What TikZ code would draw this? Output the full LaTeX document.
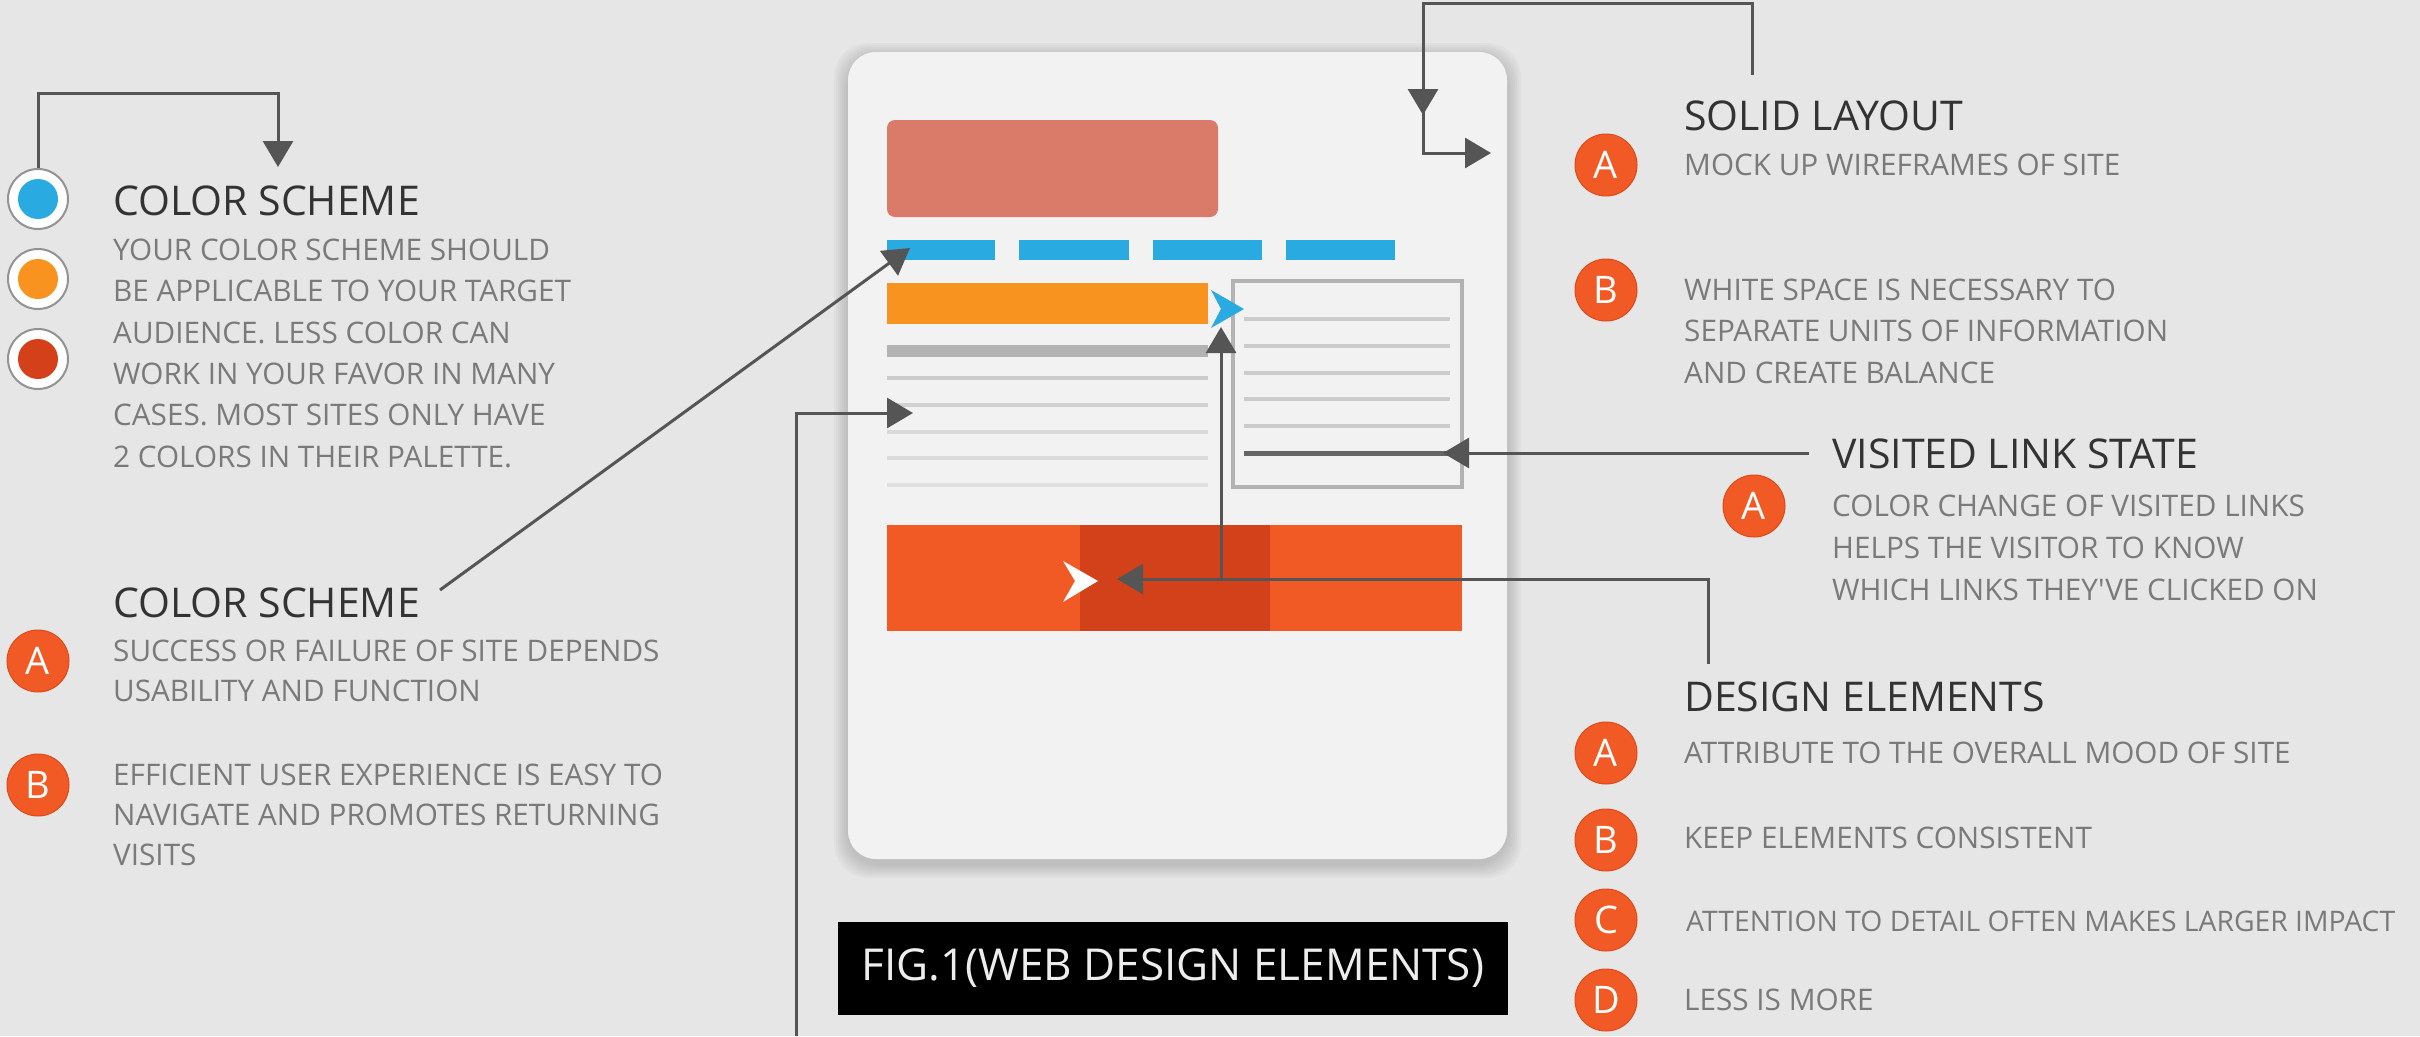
\documentclass[tikz,border=0pt]{standalone}
\usepackage{fontspec}
\setmainfont{Open Sans}
\newfontfamily\straightfont{Open Sans}[Ligatures=TeXOff]
\usetikzlibrary{arrows.meta}
\definecolor{bg}{HTML}{E6E6E6}
\definecolor{cardcol}{HTML}{F2F2F2}
\definecolor{titlecol}{HTML}{333333}
\definecolor{bodycol}{HTML}{7A7A7A}
\definecolor{conncol}{HTML}{555555}
\definecolor{badgecol}{HTML}{F15A24}
\definecolor{badgeedge}{HTML}{E04A1A}
\definecolor{blueA}{HTML}{29ABE2}
\definecolor{orangeA}{HTML}{F7931E}
\definecolor{redA}{HTML}{D4401A}
\definecolor{salmon}{HTML}{D97B68}
\definecolor{bigbar}{HTML}{F15A24}
\definecolor{bigdark}{HTML}{D2411A}
\definecolor{grayA}{HTML}{B3B3B3}
\begin{document}
\begin{tikzpicture}[x=1pt,y=-1pt,
  titletext/.style={anchor=base west,inner sep=0,text=titlecol,font=\fontsize{41}{49}\selectfont},
  bodytext/.style={anchor=base west,inner sep=0,text=bodycol,font=\fontsize{29.7}{40}\selectfont},
  badge/.style={circle,fill=badgecol,draw=badgeedge,line width=1pt,minimum size=62pt,inner sep=0,text=white,font=\fontsize{38}{38}\selectfont},
  swatch/.style={circle,fill=white,draw=gray!85,line width=2pt,minimum size=60pt,inner sep=0},
  conn/.style={draw=conncol,line width=3pt,-{Triangle[width=30pt,length=26pt]}},
  textline/.style={line width=4.5pt},
]
\useasboundingbox (0,0) rectangle (2420,1036);
\fill[bg] (0,0) rectangle (2420,1036);

% ---------- card with soft shadow ----------
\foreach \d in {14,12,10,8,6,4,2}
  \fill[black,opacity=0.022,rounded corners=34pt] (848-\d,52-\d+5) rectangle (1507+\d,859+\d+5);
\fill[cardcol,rounded corners=28pt] (848,52) rectangle (1507,859);

% header block
\fill[salmon,rounded corners=8pt] (887,120) rectangle (1218,217);
% blue nav dashes
\fill[blueA] (887,240) rectangle (995,260);
\fill[blueA] (1019,240) rectangle (1129,260);
\fill[blueA] (1153,240) rectangle (1262,260);
\fill[blueA] (1286,240) rectangle (1395,260);
% orange bar
\fill[orangeA] (887,283) rectangle (1208,324);
% gray heading bar
\fill[grayA] (887,345) rectangle (1208,357);
% left text lines
\draw[textline,draw=gray!40] (887,378) -- (1208,378);
\draw[textline,draw=gray!35] (887,405) -- (1208,405);
\draw[textline,draw=gray!30] (887,432) -- (1208,432);
\draw[textline,draw=gray!28] (887,458) -- (1208,458);
\draw[textline,draw=gray!24] (887,485) -- (1208,485);
% side box
\draw[grayA,line width=4pt,fill=cardcol] (1233,281) rectangle (1462,487);
\foreach \yy in {319,346,373,399,426}
  \draw[textline,draw=gray!40] (1244,\yy) -- (1450,\yy);
\draw[line width=5pt,draw=black!60] (1244,453) -- (1450,453);
% blue chevron
\fill[blueA] (1211,290) -- (1244,309) -- (1211,328) -- (1221,309) -- cycle;
% big orange bar
\fill[bigbar] (887,525) rectangle (1462,631);
\fill[bigdark] (1080,525) rectangle (1270,631);
\fill[white] (1063,561) -- (1098,581) -- (1063,602) -- (1075,581) -- cycle;

% FIG label
\node[fill=black,minimum width=670pt,minimum height=93pt,inner sep=0,text=white!93!black,font=\fontsize{44}{44}\selectfont] (fig) at (1173,968.5) {FIG.1(WEB DESIGN ELEMENTS)};

% ---------- left top: color swatches ----------
\node[swatch] (c1) at (38,199) {};
\node[swatch] (c2) at (38,279) {};
\node[swatch] (c3) at (38,359) {};
\fill[blueA] (c1) circle (20);
\fill[orangeA] (c2) circle (20);
\fill[redA] (c3) circle (20);

\node[titletext] (cs1) at (113,215) {COLOR SCHEME};
\node[bodytext] (cs1a) at (113,260) {YOUR COLOR SCHEME SHOULD};
\node[bodytext] (cs1b) at (113,301.5) {BE APPLICABLE TO YOUR TARGET};
\node[bodytext] (cs1c) at (113,343) {AUDIENCE. LESS COLOR CAN};
\node[bodytext] (cs1d) at (113,384) {WORK IN YOUR FAVOR IN MANY};
\node[bodytext] (cs1e) at (113,425.5) {CASES. MOST SITES ONLY HAVE};
\node[bodytext] (cs1f) at (113,467) {2 COLORS IN THEIR PALETTE.};

\coordinate (tlEnd) at (278,167);
\draw[conn] (c1.north) -- (38,93) -- (278,93) -- (tlEnd);

% ---------- left bottom ----------
\node[titletext] (cs2) at (113,617) {COLOR SCHEME};
\node[badge] (lA) at (38,661) {A};
\node[bodytext] (lAa) at (113,661) {SUCCESS OR FAILURE OF SITE DEPENDS};
\node[bodytext] (lAb) at (113,701) {USABILITY AND FUNCTION};
\node[badge] (lB) at (38,785) {B};
\node[bodytext] (lBa) at (113,785) {EFFICIENT USER EXPERIENCE IS EASY TO};
\node[bodytext] (lBb) at (113,825) {NAVIGATE AND PROMOTES RETURNING};
\node[bodytext] (lBc) at (113,865) {VISITS};

\coordinate (diagStart) at (440,590);
\coordinate (navDash) at (910,248);
\draw[conn] (diagStart) -- (navDash);

% connector into left text column
\coordinate (leftBottom) at (796,1036);
\coordinate (leftText) at (913,413);
\draw[conn] (leftBottom) -- (796,413) -- (leftText);

% ---------- right: solid layout ----------
\node[titletext] (sl) at (1684,130) {SOLID LAYOUT};
\node[badge] (rA) at (1606,165) {A};
\node[bodytext] (rAa) at (1684,175) {MOCK UP WIREFRAMES OF SITE};
\node[badge] (rB) at (1606,290) {B};
\node[bodytext] (rBa) at (1684,300) {WHITE SPACE IS NECESSARY TO};
\node[bodytext] (rBb) at (1684,341.5) {SEPARATE UNITS OF INFORMATION};
\node[bodytext] (rBc) at (1684,383) {AND CREATE BALANCE};

\coordinate (slStart) at (1752,75);
\coordinate (slMid) at (1423,115);
\coordinate (slEnd) at (1491,153);
\draw[conn] (slStart) -- (1752,3) -- (1423,3) -- (slMid);
\draw[conn] (1423,108) -- (1423,153) -- (slEnd);

% ---------- right: visited link state ----------
\node[titletext] (vl) at (1832,468) {VISITED LINK STATE};
\node[badge] (vA) at (1754,506) {A};
\node[bodytext] (vAa) at (1832,516) {COLOR CHANGE OF VISITED LINKS};
\node[bodytext] (vAb) at (1832,558) {HELPS THE VISITOR TO KNOW};
\node[bodytext,font=\straightfont\fontsize{29.7}{40}\selectfont] (vAc) at (1832,600) {WHICH LINKS THEY'VE CLICKED ON};

\coordinate (vlStart) at (1809,453);
\coordinate (vlEnd) at (1443,453);
\draw[conn] (vlStart) -- (vlEnd);

% ---------- right: design elements ----------
\node[titletext] (de) at (1684,711) {DESIGN ELEMENTS};
\node[badge] (dA) at (1606,753) {A};
\node[bodytext] (dAa) at (1684,763) {ATTRIBUTE TO THE OVERALL MOOD OF SITE};
\node[badge] (dB) at (1606,840) {B};
\node[bodytext] (dBa) at (1684,848) {KEEP ELEMENTS CONSISTENT};
\node[badge] (dC) at (1606,920) {C};
\node[bodytext,font=\fontsize{28.3}{40}\selectfont] (dCa) at (1686,931) {ATTENTION TO DETAIL OFTEN MAKES LARGER IMPACT};
\node[badge] (dD) at (1606,1000) {D};
\node[bodytext] (dDa) at (1684,1010) {LESS IS MORE};

\coordinate (deStart) at (1708,664);
\coordinate (deButton) at (1117,579);
\coordinate (deBar) at (1221,327);
\draw[conn] (deStart) -- (1708,579) -- (deButton);
\draw[conn] (1221,579) -- (deBar);
\end{tikzpicture}
\end{document}
